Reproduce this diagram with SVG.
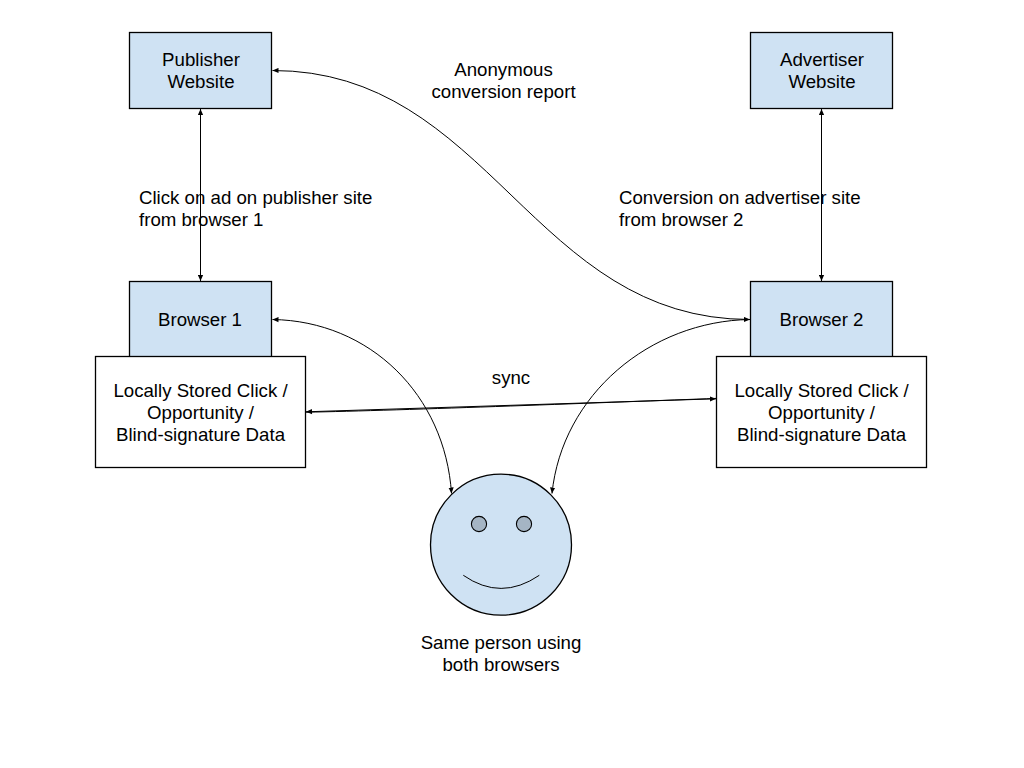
<svg xmlns="http://www.w3.org/2000/svg" width="1024" height="768" viewBox="0 0 1024 768">
<style>
text{font-family:"Liberation Sans",Arial,sans-serif;font-size:18.67px;fill:#000}
.m{text-anchor:middle}
.b{fill:#cfe2f3;stroke:#000;stroke-width:1.3}
.w{fill:#fff;stroke:#000;stroke-width:1.3}
.c{fill:none;stroke:#000;stroke-width:1;marker-end:url(#a)}
.d{marker-start:url(#s)}
.p{fill:none;stroke:#000;stroke-width:1}
</style>
<defs>
<marker id="a" markerUnits="userSpaceOnUse" markerWidth="7" markerHeight="6" refX="6" refY="3" orient="auto"><path d="M0 .4L6 3L0 5.600z" fill="#000"/></marker>
<marker id="s" markerUnits="userSpaceOnUse" markerWidth="7" markerHeight="6" refX="0" refY="3" orient="auto"><path d="M6 .4L0 3L6 5.600z" fill="#000"/></marker>
</defs>
<rect width="1024" height="768" fill="#fff"/>
<g id="publisher"><rect class="b" x="129.500" y="32.500" width="142" height="76"/><text class="m" x="201" y="66">Publisher</text><text class="m" x="201" y="88">Website</text></g>
<g id="advertiser"><rect class="b" x="750.500" y="32.500" width="142" height="76"/><text class="m" x="822" y="66">Advertiser</text><text class="m" x="822" y="88">Website</text></g>
<g id="browser1"><rect class="b" x="129.500" y="281.500" width="142" height="76"/><text class="m" x="200" y="326">Browser 1</text></g>
<g id="browser2"><rect class="b" x="750.500" y="281.500" width="142" height="76"/><text class="m" x="821.500" y="326">Browser 2</text></g>
<g id="store1"><rect class="w" x="95.500" y="356.500" width="210" height="111"/><text class="m" x="200.500" y="397">Locally Stored Click /</text><text class="m" x="200.500" y="419">Opportunity /</text><text class="m" x="200.500" y="441">Blind-signature Data</text></g>
<g id="store2"><rect class="w" x="716.500" y="356.500" width="210" height="111"/><text class="m" x="821.500" y="397">Locally Stored Click /</text><text class="m" x="821.500" y="419">Opportunity /</text><text class="m" x="821.500" y="441">Blind-signature Data</text></g>
<g id="person">
<circle class="b" cx="501" cy="544.700" r="70.500"/>
<circle cx="479" cy="524" r="7.600" fill="#a5b5c4" stroke="#000" stroke-width="1.100"/>
<circle cx="524" cy="524" r="7.600" fill="#a5b5c4" stroke="#000" stroke-width="1.100"/>
<path d="M463.300 575.300Q501 601.500 539.300 575.300" class="p"/>
</g>
<g id="connectors">
<path class="c d" d="M200.500 109V281"/>
<path class="c d" d="M821.500 109V281"/>
<path class="c d" d="M750 319.500C532 319.500 490 70.500 272.500 70.500"/>
<path class="c d" d="M272.500 319.500C370 321 445 395 451.500 493.500"/>
<path class="c" d="M750 319.500C650 321 562 395 552 493.500"/>
<path class="c d" d="M306 411.800L716 398.800"/>
<path class="p" d="M306 412.200C400 410.500 620 402 716 398.400"/>
</g>
<g id="labels">
<text class="m" x="503.500" y="76">Anonymous</text><text class="m" x="503.500" y="98">conversion report</text>
<text x="139" y="204">Click on ad on publisher site</text><text x="139" y="226">from browser 1</text>
<text x="619" y="204">Conversion on advertiser site</text><text x="619" y="226">from browser 2</text>
<text class="m" x="511" y="384">sync</text>
<text class="m" x="501" y="649">Same person using</text><text class="m" x="501" y="671">both browsers</text>
</g>
</svg>
